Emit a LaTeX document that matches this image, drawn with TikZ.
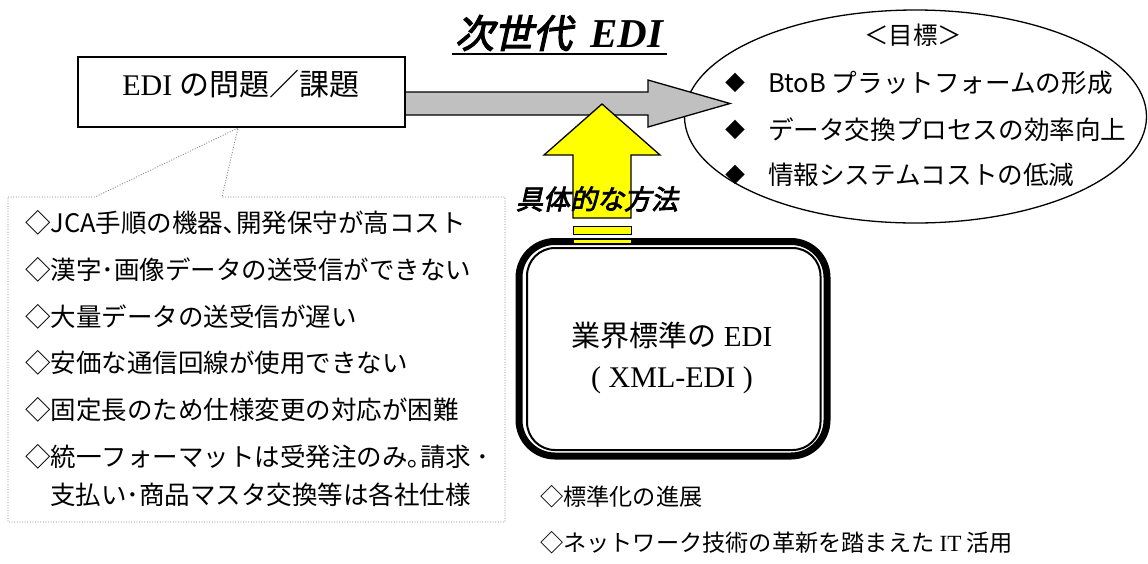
\documentclass[tikz,border=0pt]{standalone}
\usepackage{fontspec}
\setmainfont{Liberation Serif}
\setsansfont{Liberation Sans}
\newfontfamily\jp{Noto Sans CJK JP}
\newfontfamily\jpbi[FakeSlant=0.22,FakeBold=3]{Noto Sans CJK JP}
\newcommand\fsz[1]{\fontsize{#1}{#1}\selectfont}
\usetikzlibrary{shapes.geometric}
\definecolor{arrowgray}{HTML}{C0C0C0}
\definecolor{arrowyellow}{HTML}{FFFF00}
\definecolor{dotgray}{HTML}{8C8C8C}
\begin{document}
\begin{tikzpicture}[x=1pt,y=-1pt,line join=miter,
  txt/.style={inner sep=0pt,outer sep=0pt},
  listtxt/.style={txt,anchor=west,font=\jp\fsz{25.5}},
  goaltxt/.style={txt,anchor=west,font=\jp\fsz{25.6}},
  bullet/.style={txt,font=\jp\fsz{20}},
  bottomtxt/.style={txt,anchor=west,font=\jp\fsz{23.2}},
  arrowshape/.style={draw=black,line width=1.3},
  stripe/.style={draw=black,line width=0.8,fill=arrowyellow}]
\useasboundingbox (0,0) rectangle (1148,563);
\fill[white] (0,0) rectangle (1148,563);

% goal ellipse
\node[draw,ellipse,line width=1.3,minimum width=462,minimum height=213,inner sep=0pt] (goal) at (915.5,116.5) {};
\node[txt,font=\jp\fsz{24.5}] (goalhead) at (913,35) {＜目標＞};
\node[bullet] (d1) at (735,83) {◆};
\node[bullet] (d2) at (735,130) {◆};
\node[bullet] (d3) at (735,175) {◆};
\node[goaltxt] (g1) at (768,83) {BtoB プラットフォームの形成};
\node[goaltxt] (g2) at (768,130) {データ交換プロセスの効率向上};
\node[goaltxt] (g3) at (768,175) {情報システムコストの低減};

% gray arrow
\draw[arrowshape,fill=arrowgray] (400,92) -- (648,92) -- (648,80) -- (730,103.5) -- (648,127) -- (648,115) -- (400,115) -- cycle;

% problem box
\node[draw,line width=1.3,fill=white,minimum width=327,minimum height=70,inner sep=0pt] (prob) at (241.5,92) {};
\node[txt,font=\fsz{30}] (probt) at (241,84) {EDI {\jp の問題／課題}};

% dotted callout
\coordinate (ptip) at (238,128);
\draw[dotgray,line width=0.9,dash pattern=on 1pt off 1.6pt] (8,197) -- (95,197) -- (ptip) -- (222,197) -- (505,197) -- (505,522) -- (8,522) -- cycle;
\node[listtxt] (l1) at (25,223) {◇JCA手順の機器､開発保守が高コスト};
\node[listtxt] (l2) at (25,270) {◇漢字･画像データの送受信ができない};
\node[listtxt] (l3) at (25,317) {◇大量データの送受信が遅い};
\node[listtxt] (l4) at (25,363) {◇安価な通信回線が使用できない};
\node[listtxt] (l5) at (25,410) {◇固定長のため仕様変更の対応が困難};
\node[listtxt] (l6) at (25,457) {◇統一フォーマットは受発注のみ｡請求 ･};
\node[listtxt] (l7) at (50,495) {支払い･商品マスタ交換等は各社仕様};

% yellow arrow
\draw[arrowshape,fill=arrowyellow] (573,218) -- (573,155) -- (544,155) -- (602,104) -- (660,155) -- (631,155) -- (631,218) -- cycle;
\node[txt,font=\jpbi\fsz{27}] (method) at (597,199) {具体的な方法};

% title
\node[txt] (title) at (559,33) {{\jpbi\fsz{39}次世代}\hspace{18pt}{\fsz{41}\bfseries\itshape EDI}};
\draw[line width=2.4] (452,54) -- (667,54);

% XML-EDI rounded box
\node[draw,fill=white,line width=7,rounded corners=36,minimum width=308,minimum height=214.5,inner sep=0pt] (xml) at (673,348.75) {};
\node[draw,line width=2,rounded corners=28,minimum width=293.5,minimum height=202,inner sep=0pt] (xmlin) at (673.75,349) {};
\node[txt,font=\fsz{29}] (xml1) at (672,335) {{\jp 業界標準の} EDI};
\node[txt,font=\fsz{30}] (xml2) at (672,380) {( XML-EDI )};

% stripes under yellow arrow
\draw[stripe] (573,226) rectangle (631,234);
\draw[stripe] (573,239.2) rectangle (631,243.6);

% bottom notes
\node[bottomtxt] (b1) at (540,497) {◇標準化の進展};
\node[bottomtxt] (b2) at (540,543) {◇ネットワーク技術の革新を踏まえた {\rmfamily IT} 活用};
\end{tikzpicture}
\end{document}
